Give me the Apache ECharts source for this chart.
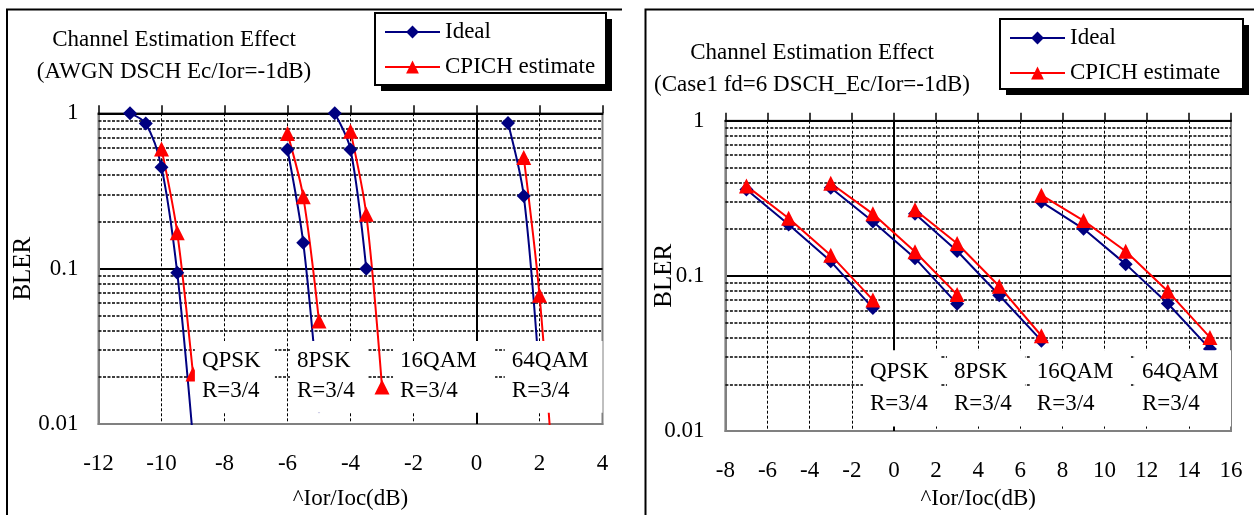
<!DOCTYPE html>
<html>
<head>
<meta charset="utf-8">
<script src="https://cdn.jsdelivr.net/npm/echarts@6/dist/echarts.min.js"></script>
<style>
  body { margin: 0; background: #fff; }
  #main { width: 1254px; height: 515px; }
</style>
</head>
<body>
<div id="main"></div>
<script>
// 左图: AWGN, [Ior/Ioc(dB), BLER]
const awgnIdealQpsk = [[-11, 1.0], [-10.5, 0.86], [-10, 0.45], [-9.5, 0.094], [-9, 0.008]];
const awgnCpichQpsk = [[-10, 0.59], [-9.5, 0.17], [-9, 0.021]];
const awgnIdeal8psk = [[-6, 0.585], [-5.5, 0.147], [-5, 0.013]];
const awgnCpich8psk = [[-6, 0.74], [-5.5, 0.29], [-5, 0.046]];
const awgnIdeal16qam = [[-4.5, 1.0], [-4, 0.585], [-3.5, 0.1]];
const awgnCpich16qam = [[-4, 0.765], [-3.5, 0.224], [-3, 0.0173]];
const awgnIdeal64qam = [[1, 0.865], [1.5, 0.294], [2, 0.02]];
const awgnCpich64qam = [[1.5, 0.52], [2, 0.0675], [2.5, 0.003]];

// 右图: Case1 fd=6
const case1IdealQpsk = [[-7, 0.36], [-5, 0.214], [-3, 0.124], [-1, 0.062]];
const case1CpichQpsk = [[-7, 0.38], [-5, 0.235], [-3, 0.136], [-1, 0.070]];
const case1Ideal8psk = [[-3, 0.37], [-1, 0.224], [1, 0.13], [3, 0.066]];
const case1Cpich8psk = [[-3, 0.395], [-1, 0.251], [1, 0.143], [3, 0.0757]];
const case1Ideal16qam = [[1, 0.251], [3, 0.1445], [5, 0.075], [7, 0.0382]];
const case1Cpich16qam = [[1, 0.267], [3, 0.1615], [5, 0.0856], [7, 0.0411]];
const case1Ideal64qam = [[7, 0.30], [9, 0.201], [11, 0.119], [13, 0.0663], [15, 0.0338]];
const case1Cpich64qam = [[7, 0.331], [9, 0.227], [11, 0.144], [13, 0.0795], [15, 0.0401]];

const seriesNames = ['Ideal', 'CPICH estimate'];
const modLabels = ['QPSK', '8PSK', '16QAM', '64QAM'];
const rateLabel = 'R=3/4';
const yTickLabels = ['0.01', '0.1', '1'];
const minorGrid = [0.02, 0.03, 0.04, 0.05, 0.06, 0.07, 0.08, 0.09, 0.2, 0.3, 0.4, 0.5, 0.6, 0.7, 0.8, 0.9];

// 文本框位置 (数据坐标)
const awgnBoxX = [[-8.94, -6.40], [-5.92, -3.44], [-2.65, 0.59], [0.90, 4]];
const awgnBoxY = [0.0118, 0.0342];
const case1BoxX = [[-1.47, 2.23], [2.52, 6.22], [6.45, 11.25], [11.44, 16]];
const case1BoxY = [0.0107, 0.0331];

const FONT = 'Liberation Serif';
const FS = 23;
const NAVY = '#000080';
const RED = '#ff0000';

const chart = echarts.init(document.getElementById('main'));

function makeXAxes(gridIndex, min, max, labelMargin, nameGap) {
    return [{
        type: 'value', gridIndex: gridIndex, position: 'bottom',
        min: min, max: max, interval: 2,
        name: '^Ior/Ioc(dB)', nameLocation: 'middle', nameGap: nameGap, nameMoveOverlap: false,
        nameTextStyle: { fontFamily: FONT, fontSize: FS, color: '#000' },
        axisLine: { show: true, onZero: false, lineStyle: { color: '#808080', width: 2 } },
        axisTick: { show: false },
        axisLabel: { margin: labelMargin, fontFamily: FONT, fontSize: FS, color: '#000' },
        splitLine: { show: true, showMinLine: false, showMaxLine: false, lineStyle: { color: '#000', type: [3, 2], width: 1 } }
    }, {
        type: 'value', gridIndex: gridIndex, position: 'top',
        min: min, max: max, interval: 2,
        axisLine: { show: true, onZero: false, lineStyle: { color: '#000', width: 2 } },
        axisTick: { show: true, inside: false, length: 8, lineStyle: { color: '#000', width: 1.5 } },
        axisLabel: { show: false },
        splitLine: { show: false }
    }];
}

function makeYAxis(gridIndex, nameGap, labelMargin) {
    return {
        type: 'log', logBase: 10, gridIndex: gridIndex, min: 0.01, max: 1,
        name: 'BLER', nameLocation: 'middle', nameGap: nameGap, nameMoveOverlap: false,
        nameTextStyle: { fontFamily: FONT, fontSize: 25, color: '#000' },
        axisLine: { show: true, onZero: false, lineStyle: { color: '#808080', width: 2 } },
        axisTick: { show: false },
        axisLabel: {
            margin: labelMargin, fontFamily: FONT, fontSize: FS, color: '#000',
            formatter: v => yTickLabels[Math.round(Math.log10(v)) + 2]
        },
        splitLine: { show: true, showMinLine: false, lineStyle: { color: '#000', width: 2 } },
        minorSplitLine: { show: false }
    };
}

function lineSeries(name, data, xi, yi, smooth) {
    const ideal = name === seriesNames[0];
    return {
        name: name, type: 'line', data: data,
        xAxisIndex: xi, yAxisIndex: yi, z: 3,
        smooth: smooth, clip: true,
        symbol: ideal ? 'diamond' : 'triangle',
        symbolSize: ideal ? 14 : 15,
        lineStyle: { color: ideal ? NAVY : RED, width: 2 },
        itemStyle: { color: ideal ? NAVY : RED },
        animation: false
    };
}

// 网格辅助线 (次网格 + x=0 实线)
function gridHelper(xi, yi) {
    return {
        type: 'line', data: [], xAxisIndex: xi, yAxisIndex: yi, z: 1, silent: true,
        markLine: {
            z: 1, silent: true, symbol: 'none', animation: false,
            label: { show: false },
            data: minorGrid.map(v => ({ yAxis: v, lineStyle: { color: '#000', type: [3, 1.5], width: 1.5 } }))
                .concat([{ xAxis: 0, lineStyle: { color: '#000', type: 'solid', width: 2 } }])
        }
    };
}

// 调制方式文本框
function boxHelper(xi, yi, boxX, boxY, lineHeight, padTop) {
    return {
        type: 'line', data: [], xAxisIndex: xi, yAxisIndex: yi, z: 10, silent: true,
        markArea: {
            z: 10, silent: true, animation: false,
            itemStyle: { color: '#fff', opacity: 1 },
            label: {
                show: true, position: 'insideTopLeft', distance: 0,
                padding: [padTop, 0, 0, 7],
                fontFamily: FONT, fontSize: FS, lineHeight: lineHeight, color: '#000'
            },
            data: boxX.map((bx, i) => [
                { name: modLabels[i] + '\n' + rateLabel, coord: [bx[0], boxY[1]] },
                { coord: [bx[1], boxY[0]] }
            ])
        }
    };
}

function legendAt(left, top) {
    return {
        data: seriesNames, orient: 'vertical', left: left, top: top, z: 8,
        padding: [7, 8, 6, 9], itemWidth: 55, itemHeight: 16, itemGap: 11,
        backgroundColor: 'transparent', borderWidth: 0,
        selectedMode: false,
        textStyle: { fontFamily: FONT, fontSize: FS, lineHeight: 24, color: '#000' }
    };
}

// 图例框 + 阴影
function legendFrame(x, y, w, h) {
    return [
        { type: 'rect', z: 6, shape: { x: x + 6, y: y + 6, width: w, height: h }, style: { fill: '#000' } },
        { type: 'rect', z: 7, shape: { x: x, y: y, width: w, height: h }, style: { fill: '#fff', stroke: '#000', lineWidth: 2 } }
    ];
}

const titleStyle = { fontFamily: FONT, fontSize: FS, fontWeight: 'normal', lineHeight: 32, color: '#000' };

chart.setOption({
    backgroundColor: '#fff',
    animation: false,
    title: [
        { text: 'Channel Estimation Effect\n(AWGN DSCH Ec/Ior=-1dB)', left: 174, top: 24, padding: 0, textAlign: 'center', textStyle: titleStyle },
        { text: 'Channel Estimation Effect\n(Case1 fd=6 DSCH_Ec/Ior=-1dB)', left: 812, top: 37, padding: 0, textAlign: 'center', textStyle: titleStyle }
    ],
    legend: [legendAt(375, 13), legendAt(1000, 19)],
    grid: [
        { left: 98.5, top: 113.3, width: 504, height: 316, show: true, borderColor: '#808080', borderWidth: 2, backgroundColor: 'transparent' },
        { left: 725.4, top: 120.7, width: 505.6, height: 314, show: true, borderColor: '#808080', borderWidth: 2, backgroundColor: 'transparent' }
    ],
    xAxis: makeXAxes(0, -12, 4, 28, 63).concat(makeXAxes(1, -8, 16, 28, 56)),
    yAxis: [makeYAxis(0, 63, 20), makeYAxis(1, 48, 21)],
    graphic: [
        { type: 'polyline', shape: { points: [[7, 515], [7, 9.5], [622, 9.5]] }, style: { stroke: '#000', lineWidth: 2, fill: null } },
        { type: 'polyline', shape: { points: [[645.5, 515], [645.5, 9.5], [1254, 9.5]] }, style: { stroke: '#000', lineWidth: 2, fill: null } }
    ].concat(legendFrame(375, 13, 231, 72), legendFrame(1000, 19, 243, 70)),
    series: [
        gridHelper(0, 0),
        gridHelper(2, 1),
        lineSeries('Ideal', awgnIdealQpsk, 0, 0, 0.3),
        lineSeries('CPICH estimate', awgnCpichQpsk, 0, 0, 0.3),
        lineSeries('Ideal', awgnIdeal8psk, 0, 0, 0.3),
        lineSeries('CPICH estimate', awgnCpich8psk, 0, 0, 0.3),
        lineSeries('Ideal', awgnIdeal16qam, 0, 0, 0.3),
        lineSeries('CPICH estimate', awgnCpich16qam, 0, 0, 0.3),
        lineSeries('Ideal', awgnIdeal64qam, 0, 0, 0.3),
        lineSeries('CPICH estimate', awgnCpich64qam, 0, 0, 0.3),
        lineSeries('Ideal', case1IdealQpsk, 2, 1, false),
        lineSeries('CPICH estimate', case1CpichQpsk, 2, 1, false),
        lineSeries('Ideal', case1Ideal8psk, 2, 1, false),
        lineSeries('CPICH estimate', case1Cpich8psk, 2, 1, false),
        lineSeries('Ideal', case1Ideal16qam, 2, 1, false),
        lineSeries('CPICH estimate', case1Cpich16qam, 2, 1, false),
        lineSeries('Ideal', case1Ideal64qam, 2, 1, false),
        lineSeries('CPICH estimate', case1Cpich64qam, 2, 1, false),
        boxHelper(0, 0, awgnBoxX, awgnBoxY, 30, 5),
        boxHelper(2, 1, case1BoxX, case1BoxY, 32, 6)
    ]
});
</script>
</body>
</html>
